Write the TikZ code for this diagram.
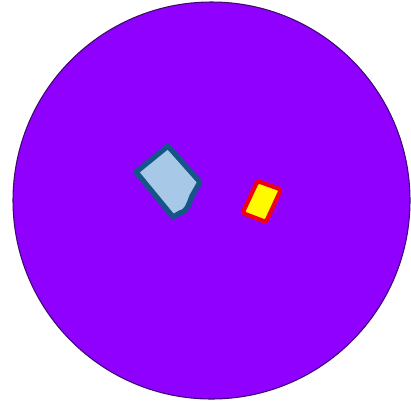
\documentclass[tikz,border=0pt]{standalone}
\usepackage{tikz}
\usepackage{xcolor}
\definecolor{discviolet}{RGB}{143,0,255}
\definecolor{discrim}{RGB}{60,10,110}
\definecolor{floeblue}{RGB}{168,200,232}
\definecolor{floeedge}{RGB}{22,85,135}
\definecolor{chipyellow}{RGB}{255,250,0}
\definecolor{chipred}{RGB}{240,0,20}

\begin{document}
\begin{tikzpicture}[x=0.02cm,y=-0.02cm]
    \useasboundingbox (0,0) rectangle (411,403);
    \fill[white] (0,0) rectangle (411,403);
    % big disc
    \draw[discrim,fill=discviolet,line width=0.6pt] (211.5,200.5) circle[radius=198.5];
    % blue patch
    \draw[floeedge,fill=floeblue,line width=3pt,line join=round]
        (168,146)--(200,182)--(192,196) .. controls (188,207) and (186,212) .. (180,213)
        --(173,217)--(136,172)--cycle;
    % yellow patch
    \draw[chipred,fill=chipyellow,line width=2.4pt,rounded corners=1.5pt]
        (257.5,181)--(281,189.5)--(266,222)--(242.5,213)--cycle;
\end{tikzpicture}
\end{document}
